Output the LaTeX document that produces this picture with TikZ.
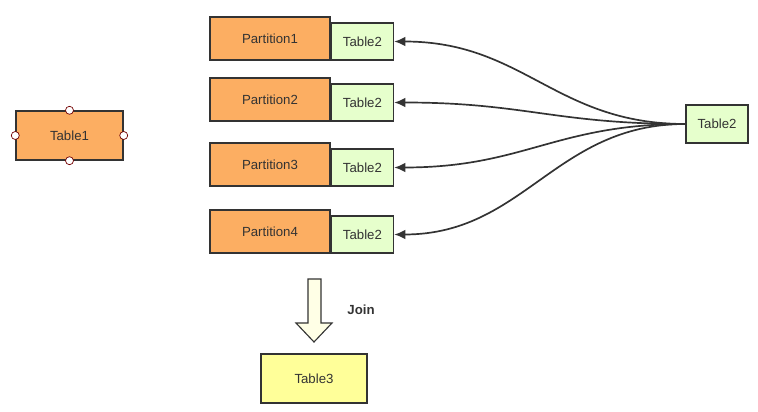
\documentclass[tikz,border=0pt]{standalone}
\usepackage{fontspec}
\setmainfont{Liberation Sans}
\usetikzlibrary{arrows.meta,positioning}

\definecolor{tblorange}{HTML}{FCAE62}
\definecolor{tblgreen}{HTML}{E6FFCC}
\definecolor{tblyellow}{HTML}{FFFF99}
\definecolor{edgegray}{HTML}{333333}
\definecolor{joinfill}{HTML}{FFFFE6}

\tikzset{
  box/.style={draw=edgegray,line width=1pt,inner sep=0pt,font=\fontsize{9.4}{11}\selectfont,text=black!80},
  parttbl/.style={box,fill=tblorange,minimum width=3cm,minimum height=1.075cm},
  smalltbl/.style={box,fill=tblgreen,minimum width=1.55cm,minimum height=0.925cm},
  handle/.style={circle,draw=red!45!black,fill=white,line width=0.5pt,inner sep=0pt,minimum size=0.2cm},
  link/.style={-{Latex[length=2.8mm,width=2.4mm]},draw=edgegray,line width=1.2pt}
}

\begin{document}
\begin{tikzpicture}[x=0.025cm,y=-0.025cm]
  \useasboundingbox (0,0) rectangle (758,412);
  % Selected table on the left
  \node[box,fill=tblorange,minimum width=2.675cm,minimum height=1.225cm] (t1) at (69.5,135.5) {Table1};
  \foreach \a in {north,south,east,west}{\node[handle] (h\a) at (t1.\a) {};}
  % Partitions with their copy of Table2
  \foreach \i/\y in {1/38.5,2/99.5,3/164.5,4/231.5}{
    \node[parttbl] (p\i) at (270,\y) {Partition\i};
    \node[smalltbl,anchor=south west] (c\i) at (p\i.south east) {Table2};
  }
  % Broadcast table
  \node[smalltbl,minimum height=0.95cm] (src) at (717,124) {Table2};
  \foreach \i in {1,...,4}{\draw[link] (src.west) .. controls +(-130,0) and +(130,0) .. (c\i.east);}
  % Join step
  \draw[draw=edgegray,fill=joinfill,line width=0.8pt] (308,279) -- (321,279) -- (321,323) -- (332,323) -- (314,342) -- (296,323) -- (308,323) -- cycle;
  \node[font=\fontsize{9.4}{11}\selectfont\bfseries,text=black!80] (join) at (361,310) {Join};
  \node[box,fill=tblyellow,minimum width=2.65cm,minimum height=1.225cm] (t3) at (314,378.5) {Table3};
\end{tikzpicture}
\end{document}
